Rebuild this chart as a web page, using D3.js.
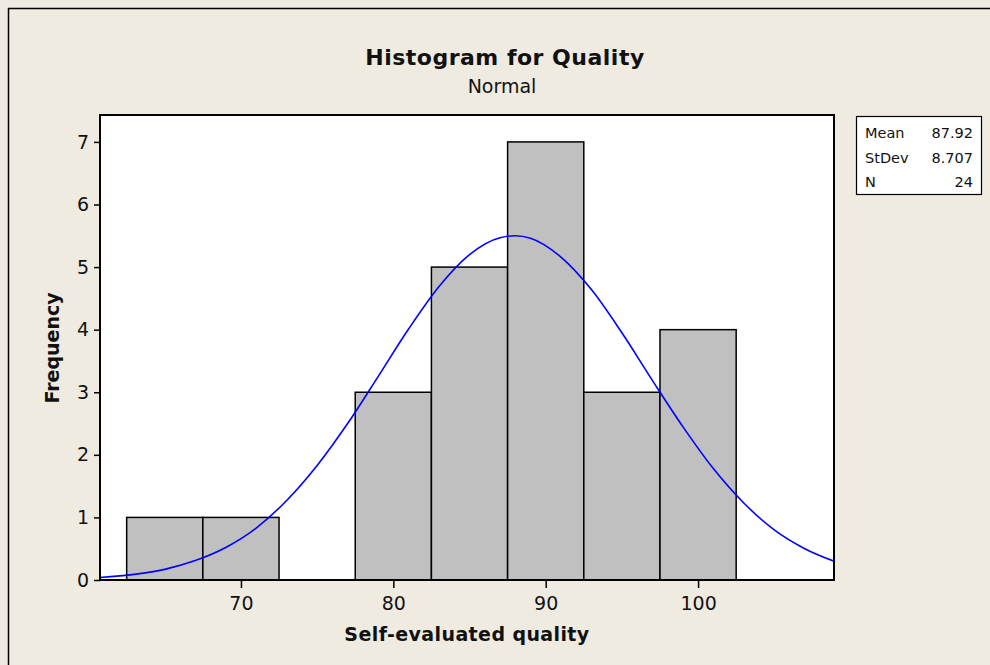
<html>
<head>
    <title>Histogram for Quality</title>
    <script src="https://cdn.jsdelivr.net/npm/d3@7"></script>
    <style>
        body { margin: 0; background: #EFEBE1; }
        text { font-family: "DejaVu Sans", sans-serif; fill: #111; }
    </style>
</head>
<body>
<script>

    const width = 990;
    const height = 665;

    // histogram bins (lower edge, upper edge, count)
    const binStarts = [62.5, 67.5, 72.5, 77.5, 82.5, 87.5, 92.5, 97.5];
    const binEnds = [67.5, 72.5, 77.5, 82.5, 87.5, 92.5, 97.5, 102.5];
    const counts = [1, 1, 0, 3, 5, 7, 3, 4];

    // fitted normal curve
    const curveX = [60.75, 63, 65, 67, 69, 71, 73, 75, 77, 79, 81, 83, 85, 87, 88, 89, 91, 93, 95, 97, 99, 101, 103, 105, 107, 108.92];
    const curveY = [0.04, 0.09, 0.17, 0.31, 0.52, 0.83, 1.27, 1.83, 2.5, 3.25, 4.01, 4.69, 5.2, 5.47, 5.5, 5.46, 5.16, 4.64, 3.95, 3.19, 2.45, 1.78, 1.23, 0.8, 0.5, 0.3];

    const xTicks = [70, 80, 90, 100];
    const yTicks = [0, 1, 2, 3, 4, 5, 6, 7];

    const statLabels = ["Mean", "StDev", "N"];
    const statValues = ["87.92", "8.707", "24"];

    const plot = {left: 100, right: 834, top: 115, bottom: 580};

    const x = d3.scaleLinear()
        .domain([60.75, 108.92])
        .range([plot.left, plot.right]);

    const y = d3.scaleLinear()
        .domain([0, 7.43])
        .range([plot.bottom, plot.top]);

    var svg = d3.select("body").append("svg")
        .attr("width", width)
        .attr("height", height);

    // outer frame
    svg.append("rect")
        .attr("x", 8.5).attr("y", 8.5)
        .attr("width", width + 20).attr("height", height + 20)
        .attr("fill", "#EFEBE1")
        .attr("stroke", "#000")
        .attr("stroke-width", 1.5);

    svg.append("rect")
        .attr("x", plot.left).attr("y", plot.top)
        .attr("width", plot.right - plot.left)
        .attr("height", plot.bottom - plot.top)
        .attr("fill", "#fff");

    const bins = counts.map((c, i) => ({x0: binStarts[i], x1: binEnds[i], n: c}));

    svg.append("g")
        .selectAll("rect")
        .data(bins)
        .enter()
        .append("rect")
        .attr("x", d => x(d.x0))
        .attr("y", d => y(d.n))
        .attr("width", d => x(d.x1) - x(d.x0))
        .attr("height", d => y(0) - y(d.n))
        .attr("fill", "#C0C0C0")
        .attr("stroke", "#000")
        .attr("stroke-width", 1.5);

    svg.append("clipPath").attr("id", "clip")
        .append("rect")
        .attr("x", plot.left).attr("y", plot.top)
        .attr("width", plot.right - plot.left)
        .attr("height", plot.bottom - plot.top);

    const line = d3.line()
        .x(d => x(d[0]))
        .y(d => y(d[1]))
        .curve(d3.curveMonotoneX);

    svg.append("path")
        .datum(curveX.map((v, i) => [v, curveY[i]]))
        .attr("clip-path", "url(#clip)")
        .attr("fill", "none")
        .attr("stroke", "#0000FF")
        .attr("stroke-width", 1.6)
        .attr("d", line);

    // plot frame
    svg.append("rect")
        .attr("x", plot.left).attr("y", plot.top)
        .attr("width", plot.right - plot.left)
        .attr("height", plot.bottom - plot.top)
        .attr("fill", "none")
        .attr("stroke", "#000")
        .attr("stroke-width", 2);

    const xAxis = svg.append("g")
        .attr("transform", `translate(0,${plot.bottom})`)
        .call(d3.axisBottom(x).tickValues(xTicks).tickSize(8).tickPadding(9));

    const yAxis = svg.append("g")
        .attr("transform", `translate(${plot.left},0)`)
        .call(d3.axisLeft(y).tickValues(yTicks).tickSize(6).tickPadding(5));

    [xAxis, yAxis].forEach(g => {
        g.select(".domain").remove();
        g.selectAll("line").attr("stroke", "#000").attr("stroke-width", 1.5);
        g.selectAll("text").attr("font-size", 19).attr("font-family", "DejaVu Sans").attr("fill", "#111");
    });

    svg.append("text")
        .attr("x", 505).attr("y", 65)
        .attr("text-anchor", "middle")
        .attr("font-size", 22)
        .attr("font-weight", "bold")
        .attr("letter-spacing", 0.5)
        .text("Histogram for Quality");

    svg.append("text")
        .attr("x", 502).attr("y", 93)
        .attr("text-anchor", "middle")
        .attr("font-size", 19)
        .text("Normal");

    svg.append("text")
        .attr("x", (plot.left + plot.right) / 2).attr("y", 641)
        .attr("text-anchor", "middle")
        .attr("font-size", 19)
        .attr("font-weight", "bold")
        .attr("letter-spacing", 0.4)
        .text("Self-evaluated quality");

    svg.append("text")
        .attr("transform", "translate(59,348) rotate(-90)")
        .attr("text-anchor", "middle")
        .attr("font-size", 19)
        .attr("font-weight", "bold")
        .text("Frequency");

    // stats box
    const box = svg.append("g");
    box.append("rect")
        .attr("x", 856.5).attr("y", 116.5)
        .attr("width", 125).attr("height", 78)
        .attr("fill", "#fff")
        .attr("stroke", "#000")
        .attr("stroke-width", 1.2);

    box.selectAll("text.lab")
        .data(statLabels)
        .enter()
        .append("text")
        .attr("class", "lab")
        .attr("x", 865)
        .attr("y", (d, i) => 138 + i * 24.5)
        .attr("font-size", 14.5)
        .text(d => d);

    box.selectAll("text.val")
        .data(statValues)
        .enter()
        .append("text")
        .attr("class", "val")
        .attr("x", 973)
        .attr("y", (d, i) => 138 + i * 24.5)
        .attr("text-anchor", "end")
        .attr("font-size", 14.5)
        .text(d => d);

</script>
</body>
</html>
